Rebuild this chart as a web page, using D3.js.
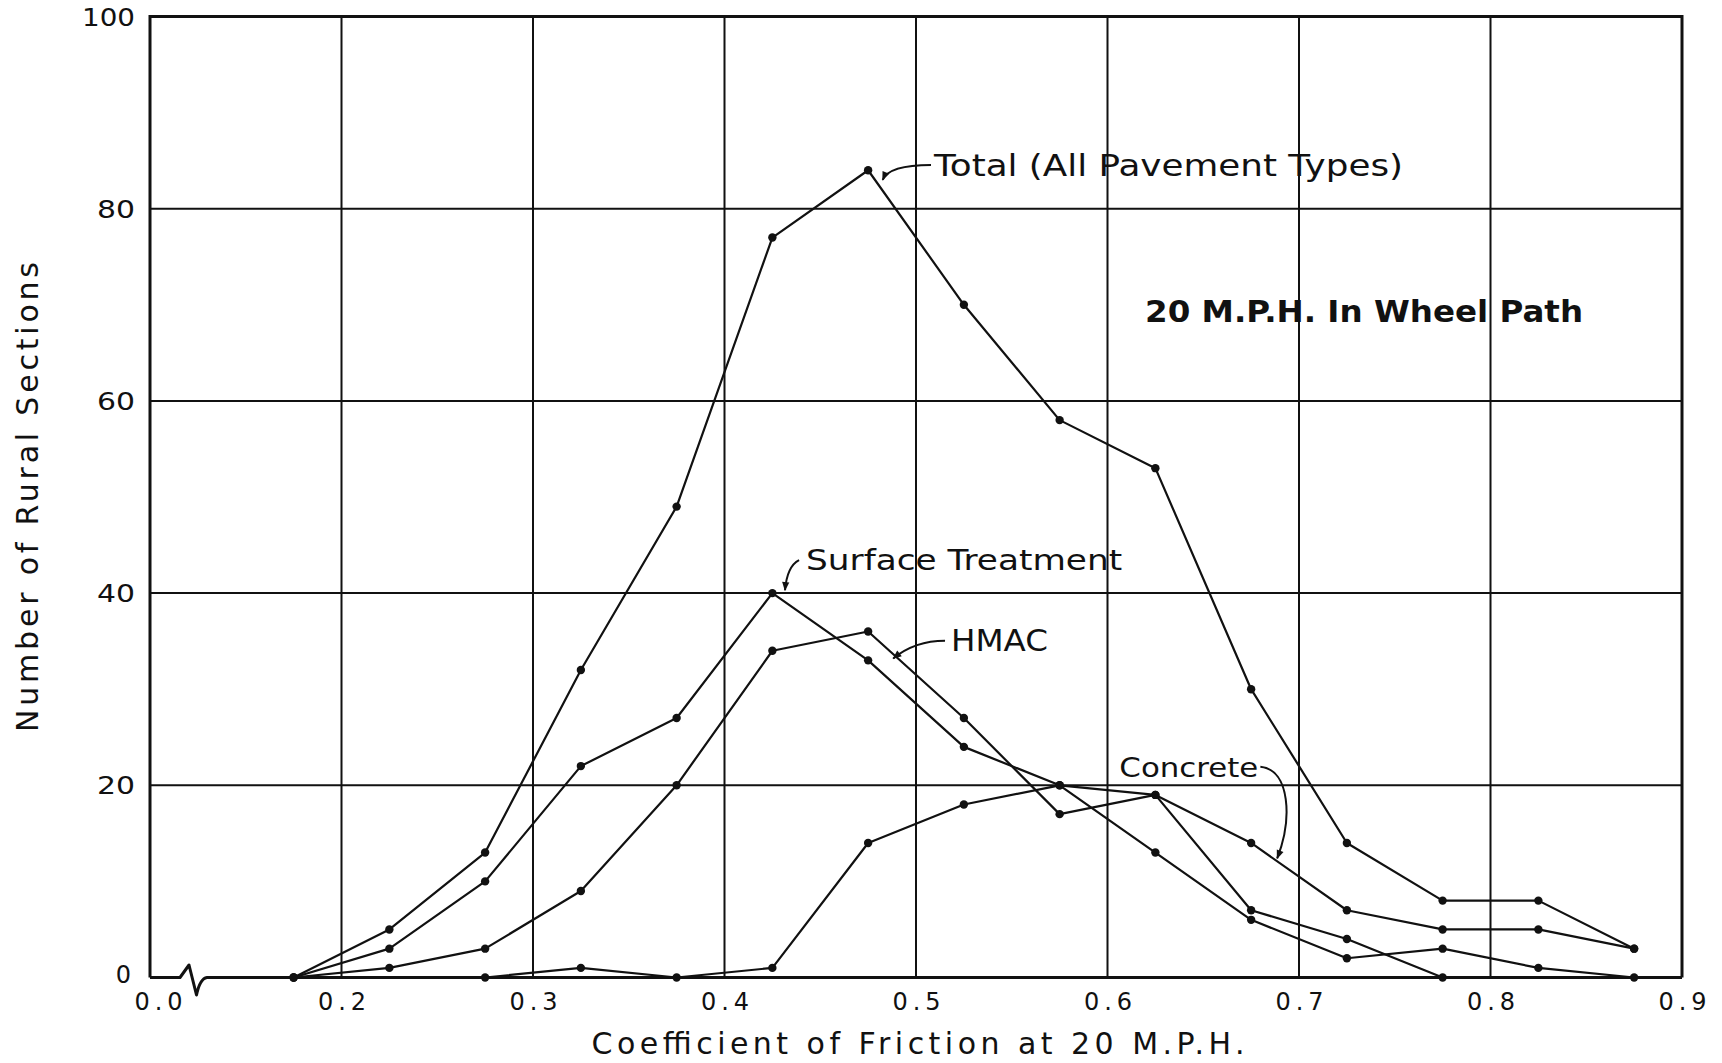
<!DOCTYPE html>
<html>
<head>
<meta charset="utf-8">
<script src="https://cdn.jsdelivr.net/npm/d3@7"></script>
<style>
  html, body { margin: 0; padding: 0; background: #fff; }
  svg { display: block; }
  text { font-family: "DejaVu Sans", "Liberation Sans", sans-serif; fill: #111; }
</style>
</head>
<body>
<script>
// ---------------- DATA ----------------
const frictionBins = [0.175, 0.225, 0.275, 0.325, 0.375, 0.425, 0.475, 0.525, 0.575, 0.625, 0.675, 0.725, 0.775, 0.825, 0.875];
const totalAll      = [0, 5, 13, 32, 49, 77, 84, 70, 58, 53, 30, 14, 8, 8, 3];
const surfaceTreat  = [0, 3, 10, 22, 27, 40, 33, 24, 20, 13, 6, 2, 3, 1, 0];
const hmac          = [0, 1, 3, 9, 20, 34, 36, 27, 17, 19, 7, 4, 0, null, null];
const concrete      = [null, null, 0, 1, 0, 1, 14, 18, 20, 19, 14, 7, 5, 5, 3];

const xTickValues = [0.1, 0.2, 0.3, 0.4, 0.5, 0.6, 0.7, 0.8, 0.9];
const xTickLabels = ["0.0", "0.2", "0.3", "0.4", "0.5", "0.6", "0.7", "0.8", "0.9"];
const yTickValues = [0, 20, 40, 60, 80, 100];
const yTickLabels = ["0", "20", "40", "60", "80", "100"];
const xGridValues = [0.2, 0.3, 0.4, 0.5, 0.6, 0.7, 0.8];
const yGridValues = [20, 40, 60, 80];

const xTitle = "Coefficient of Friction at 20 M.P.H.";
const yTitle = "Number of Rural Sections";
const noteText = "20 M.P.H. In Wheel Path";
const seriesNames = ["Total (All Pavement Types)", "Surface Treatment", "HMAC", "Concrete"];

// ---------------- LAYOUT ----------------
const W = 1722, H = 1063;
const x = d3.scaleLinear().domain([0.1, 0.9]).range([150, 1682]);
const y = d3.scaleLinear().domain([0, 100]).range([977.5, 16.5]);

const svg = d3.select("body").append("svg").attr("width", W).attr("height", H);
svg.append("rect").attr("width", W).attr("height", H).attr("fill", "#fff");

// arrow marker
svg.append("defs").append("marker")
  .attr("id", "arrow").attr("viewBox", "0 0 10 10")
  .attr("refX", 9).attr("refY", 5)
  .attr("markerWidth", 12).attr("markerHeight", 9)
  .attr("markerUnits", "userSpaceOnUse")
  .attr("orient", "auto")
  .append("path").attr("d", "M0,1 L10,5 L0,9 Z").attr("fill", "#111");

// grid
const grid = svg.append("g").attr("stroke", "#111").attr("stroke-width", 2);
grid.selectAll("line.v").data(xGridValues).join("line").attr("class", "v")
  .attr("x1", d => x(d)).attr("x2", d => x(d)).attr("y1", y(0)).attr("y2", y(100));
grid.selectAll("line.h").data(yGridValues).join("line").attr("class", "h")
  .attr("x1", x(0.1)).attr("x2", x(0.9)).attr("y1", d => y(d)).attr("y2", d => y(d));

// frame (left, top, right) + bottom with axis break
const x0 = x(0.1), x1 = x(0.9), yb = y(0), yt = y(100);
svg.append("path")
  .attr("d", `M${x0},${yb} V${yt} H${x1} V${yb}`)
  .attr("fill", "none").attr("stroke", "#111").attr("stroke-width", 3);
svg.append("path")
  .attr("d", `M${x0},${yb} H${x0 + 30} L${x0 + 39},${yb - 12.5} L${x0 + 46.5},${yb + 17.5} Q${x0 + 50},${yb + 1} ${x0 + 57},${yb} H${x1}`)
  .attr("fill", "none").attr("stroke", "#111").attr("stroke-width", 3).attr("stroke-linejoin", "round");

// axes (labels only)
const xAxis = d3.axisBottom(x).tickValues(xTickValues).tickFormat((d, i) => xTickLabels[i]).tickSize(0);
const gx = svg.append("g").attr("transform", `translate(0,${yb})`).call(xAxis);
gx.select(".domain").remove();
gx.selectAll("text")
  .attr("y", 32).attr("dy", 0)
  .attr("dx", (d, i) => i === 0 ? 8 : 0)
  .attr("font-size", 24)
  .attr("textLength", 48).attr("lengthAdjust", "spacing")
  .style("font-family", "DejaVu Sans, sans-serif").attr("fill", "#111");

const yAxis = d3.axisLeft(y).tickValues(yTickValues).tickFormat((d, i) => yTickLabels[i]).tickSize(0).tickPadding(15);
const gy = svg.append("g").attr("transform", `translate(${x0},0)`).call(yAxis);
gy.select(".domain").remove();
gy.selectAll("text")
  .attr("font-size", 24).attr("dy", (d, i) => i === 0 ? "0.2em" : "0.36em")
  .attr("dx", (d, i) => i === 0 ? -4 : 0)
  .each(function (d, i) {
    const n = yTickLabels[i].length;
    if (n > 1) d3.select(this).attr("textLength", n === 2 ? 38 : 53).attr("lengthAdjust", "spacingAndGlyphs");
  })
  .style("font-family", "DejaVu Sans, sans-serif").attr("fill", "#111");

// axis titles
svg.append("text").attr("x", x(0.5) + 2).attr("y", 1054)
  .attr("text-anchor", "middle").attr("font-size", 30)
  .attr("textLength", 653).attr("lengthAdjust", "spacing")
  .text(xTitle);
svg.append("text")
  .attr("transform", `translate(38,${(y(40) + y(60)) / 2}) rotate(-90)`)
  .attr("text-anchor", "middle").attr("font-size", 30)
  .attr("textLength", 470).attr("lengthAdjust", "spacing")
  .text(yTitle);

// series
const allSeries = [totalAll, surfaceTreat, hmac, concrete];
const line = d3.line()
  .defined(d => d[1] !== null)
  .x(d => x(d[0])).y(d => y(d[1]));

allSeries.forEach(vals => {
  const pts = frictionBins.map((b, i) => [b, vals[i]]);
  svg.append("path").datum(pts)
    .attr("d", line)
    .attr("fill", "none").attr("stroke", "#111").attr("stroke-width", 2.2)
    .attr("stroke-linejoin", "round");
  svg.append("g").selectAll("circle")
    .data(pts.filter(p => p[1] !== null)).join("circle")
    .attr("cx", d => x(d[0])).attr("cy", d => y(d[1])).attr("r", 4.2)
    .attr("fill", "#111");
});

// annotations: label anchor and leader tip in data units, leader shape in pixel offsets
const annotations = [
  { text: seriesNames[0], tx: 0.5094, ty: 83.4, size: 30, len: 469,
    start: [-3, -11], tip: [0.4826, 83.0], ctrl: (s, t) => `Q${s[0] - 42},${s[1]} ${t[0]},${t[1]}` },
  { text: seriesNames[1], tx: 0.4426, ty: 42.4, size: 29, len: 316,
    start: [-7, -10], tip: [0.4316, 40.3], ctrl: (s, t) => `Q${s[0] - 12},${s[1] + 6} ${t[0]},${t[1]}` },
  { text: seriesNames[2], tx: 0.5183, ty: 34.0, size: 30, len: 97,
    start: [-6, -10], tip: [0.4881, 33.2], ctrl: (s, t) => `Q${s[0] - 30},${s[1]} ${t[0]},${t[1]}` },
  { text: seriesNames[3], tx: 0.6062, ty: 20.9, size: 27, len: 139,
    start: [141, -10], tip: [0.6886, 12.4], ctrl: (s, t) => `C${s[0] + 30},${s[1] + 3} ${s[0] + 32},${s[1] + 53} ${t[0]},${t[1]}` }
];

annotations.forEach(a => {
  const px = x(a.tx), py = y(a.ty);
  svg.append("text").attr("x", px).attr("y", py)
    .attr("font-size", a.size)
    .attr("textLength", a.len).attr("lengthAdjust", "spacingAndGlyphs")
    .text(a.text);
  const s = [px + a.start[0], py + a.start[1]];
  const t = [x(a.tip[0]), y(a.tip[1])];
  svg.append("path")
    .attr("d", `M${s[0]},${s[1]} ` + a.ctrl(s, t))
    .attr("fill", "none").attr("stroke", "#111").attr("stroke-width", 2)
    .attr("marker-end", "url(#arrow)");
});

// condition note
svg.append("text").attr("x", x(0.6196)).attr("y", y(68.2))
  .attr("font-size", 31).attr("font-weight", "bold")
  .attr("textLength", 438).attr("lengthAdjust", "spacingAndGlyphs")
  .text(noteText);
</script>
</body>
</html>
